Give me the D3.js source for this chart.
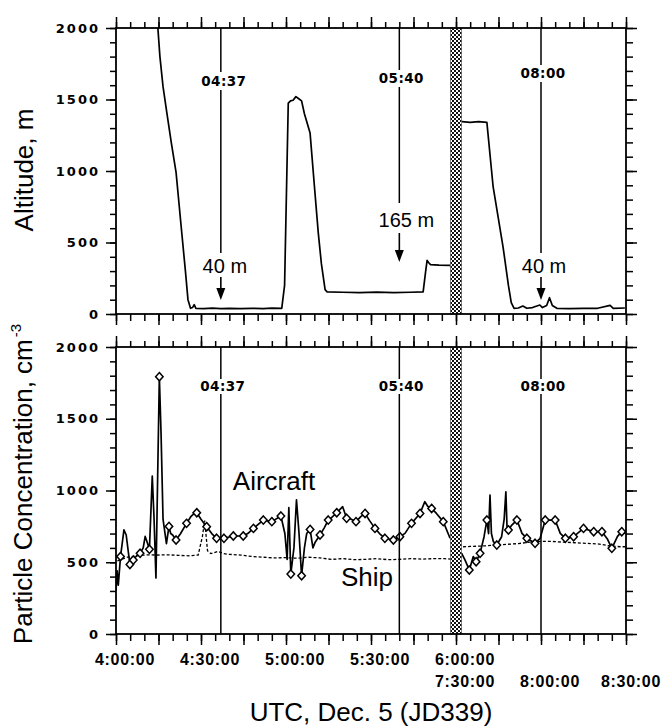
<!DOCTYPE html>
<html>
<head>
<meta charset="utf-8">
<script src="https://cdn.jsdelivr.net/npm/d3@7"></script>
<style>
body { margin: 0; background: #fff; }
svg { display: block; }
text { font-family: "Liberation Sans", Arial, sans-serif; fill: #000; }
</style>
</head>
<body>
<div id="chart"></div>
<script>
const width = 664,
      height = 727;

// Time is minutes after 04:00 UTC. The axis skips 06:00 - 07:30.
const breakStart = 120,
      breakEnd = 210,
      tEnd = 270;

const xLabelsRow1 = [[0, "4:00:00"], [30, "4:30:00"], [60, "5:00:00"], [90, "5:30:00"], [120, "6:00:00"]];
const xLabelsRow2 = [[210, "7:30:00"], [240, "8:00:00"], [270, "8:30:00"]];
const yLabels = [0, 500, 1000, 1500, 2000];

const markerTimes = [37, 100, 240];
const markerLabels = ["04:37", "05:40", "08:00"];
const altitudeNotes = ["40 m", "165 m", "40 m"];

// Altitude, m
const altitudeA = [
  [14.6, 2050], [15.5, 1800], [16.6, 1590], [18, 1400], [19.5, 1200], [21.2, 990],
  [23.2, 570], [24.5, 300], [25.4, 100], [26.3, 40], [27, 45], [27.6, 65], [28.2, 40],
  [31, 38], [34, 41], [37, 38], [40, 40], [44, 37], [48, 39], [52, 38], [55, 41],
  [58.5, 40], [59.5, 200], [60.8, 1475], [61.6, 1490], [62.5, 1495], [63.5, 1520],
  [64.5, 1505], [65.5, 1490], [66.5, 1400], [68.5, 1265], [70, 900], [71.4, 566],
  [72.5, 350], [73.8, 170], [74.5, 155], [80, 152], [86, 150], [92, 153], [98, 150],
  [104, 152], [108.4, 155], [109.3, 300], [109.8, 375], [110.3, 360], [111, 345],
  [114, 342], [118, 340]
];
const altitudeB = [
  [212.1, 1345], [215, 1340], [218, 1345], [220.9, 1340], [223.1, 890], [226.6, 470],
  [228.5, 200], [229.5, 80], [230.5, 40], [232, 42], [233.6, 56], [235, 40], [237, 45],
  [239.6, 63], [240.5, 45], [242, 60], [243, 114], [244, 60], [245.6, 40], [250, 38],
  [255, 40], [260, 40], [264.4, 60], [265.5, 40], [269.6, 42]
];

// Particle concentration, cm-3
const aircraftA = [
  [0, 300], [0.4, 440], [0.8, 340], [1.6, 540], [2.8, 725], [3.6, 690], [4.9, 485],
  [6.1, 515], [7.3, 545], [8.5, 562], [9.6, 600], [10.3, 680], [11, 640], [11.8, 590],
  [12.8, 1100], [13.4, 820], [14.1, 390], [15.3, 1793], [15.9, 1400], [16.6, 800],
  [17.8, 630], [18.7, 750], [19.3, 700], [20, 690], [21.2, 655], [22.8, 700],
  [24.9, 771], [26.5, 820], [27.6, 840], [28.5, 845], [30, 800], [32, 748], [33.8, 700],
  [35.5, 667], [38.1, 667], [41.4, 683], [44.9, 683], [46.5, 700], [48.5, 736], [52, 794],
  [55, 783], [58.2, 822], [59.6, 700], [60.4, 520], [61, 880], [61.7, 418], [62.8, 600],
  [63.7, 935], [64.6, 700], [65.5, 406], [66.5, 600], [67.3, 700], [68.5, 729],
  [69.5, 600], [70.3, 640], [72, 690], [73.5, 740], [74.9, 794], [75.5, 800],
  [77.9, 845], [80, 887], [81.4, 806], [83, 800], [84.7, 783], [86.5, 820], [87.9, 840],
  [89.5, 790], [91.4, 736], [93, 700], [94.9, 667], [97.9, 655], [100.2, 678],
  [102, 701], [104.3, 771], [107.3, 840], [109, 922], [110, 890], [111.4, 875],
  [113.1, 840], [115.5, 783], [117.9, 667]
];
const aircraftB = [
  [212, 562], [213.2, 515], [214.7, 446], [216.1, 540], [217.1, 504], [218.5, 562],
  [219.9, 678], [220.9, 794], [221.5, 700], [222, 968], [222.5, 700], [223.2, 643],
  [224.4, 620], [226.1, 678], [227, 800], [227.6, 991], [228, 750], [228.5, 725],
  [229.7, 759], [231.5, 794], [233.3, 701], [235, 667], [237.9, 632], [239.7, 667],
  [241.5, 794], [245, 794], [246.8, 701], [248.6, 667], [251.5, 678], [255, 736],
  [258.6, 713], [261.5, 713], [263.5, 660], [265, 597], [267, 680], [268.5, 713],
  [269.7, 701]
];
const aircraftMeans = [
  [1.6, 540], [4.9, 485], [6.1, 515], [8.5, 562], [11.8, 590], [15.3, 1793], [18.7, 750],
  [21.2, 655], [24.9, 771], [28.5, 845], [32, 748], [35.5, 667], [38.1, 667], [41.4, 683],
  [44.9, 683], [48.5, 736], [52, 794], [55, 783], [58.2, 822], [61.7, 418], [65.5, 406],
  [68.5, 729], [72, 690], [74.9, 794], [77.9, 845], [81.4, 806], [84.7, 783], [87.9, 840],
  [91.4, 736], [94.9, 667], [97.9, 655], [100.2, 678], [104.3, 771], [107.3, 840],
  [111.4, 875], [115.5, 783],
  [214.7, 446], [217.1, 504], [218.5, 562], [220.9, 794], [224.4, 620], [228.5, 725],
  [231.5, 794], [235, 667], [237.9, 632], [241.5, 794], [245, 794], [248.6, 667],
  [251.5, 678], [255, 736], [258.6, 713], [261.5, 713], [265, 597], [268.5, 713]
];
const shipA = [
  [0.5, 510], [2, 520], [4, 535], [6, 540], [8, 548], [10, 550], [12, 552], [14, 550],
  [18, 552], [22, 548], [26, 545], [29, 550], [30.5, 680], [31.3, 790], [32.3, 580],
  [33.5, 560], [36, 575], [38, 560], [40, 555], [44, 550], [48, 540], [52, 535], [56, 530],
  [60, 532], [64, 528], [68, 535], [72, 530], [76, 520], [80, 525], [84, 518], [88, 520],
  [92, 525], [96, 518], [100, 520], [104, 525], [108, 522], [112, 525], [116, 525],
  [118, 522]
];
const shipB = [
  [212.5, 608], [215, 610], [218, 612], [221, 615], [224, 620], [228, 625], [232, 630],
  [236, 640], [240, 645], [244, 645], [248, 640], [252, 636], [256, 632], [260, 628],
  [264, 615], [268, 608], [270, 608]
];

const left = 116, right = 626;

const x = d3.scaleLinear()
    .domain([0, breakStart, breakEnd, tEnd])
    .range([left, 456, 456, right]);

const yAlt = d3.scaleLinear().domain([0, 2000]).range([314, 28]);
const yConc = d3.scaleLinear().domain([0, 2000]).range([634, 347]);

const svg = d3.select("#chart")
  .append("svg")
    .attr("width", width)
    .attr("height", height);

const defs = svg.append("defs");
const pat = defs.append("pattern")
    .attr("id", "checker")
    .attr("patternUnits", "userSpaceOnUse")
    .attr("width", 4)
    .attr("height", 4);
pat.append("rect").attr("width", 4).attr("height", 4).attr("fill", "#fff");
pat.append("rect").attr("width", 2).attr("height", 2).attr("fill", "#111");
pat.append("rect").attr("x", 2).attr("y", 2).attr("width", 2).attr("height", 2).attr("fill", "#111");

[["clipAlt", yAlt], ["clipConc", yConc]].forEach(([id, y]) => {
  defs.append("clipPath").attr("id", id)
    .append("rect")
      .attr("x", left).attr("y", y(2000))
      .attr("width", right - left).attr("height", y(0) - y(2000));
});

const minorX = d3.range(0, breakStart + 1, 5).concat(d3.range(breakEnd + 5, tEnd + 1, 5));
const majorX = minorX.filter(d => d % 15 === 0);
const minorY = d3.range(0, 2001, 100);
const majorY = minorY.filter(d => d % 500 === 0);

function ticks(g, axis, values, size) {
  g.append("g")
      .attr("class", "ticks")
      .call(axis.tickValues(values).tickSize(size).tickSizeOuter(0).tickFormat(""))
      .call(s => s.select(".domain").remove())
      .selectAll("line")
        .attr("stroke", "#000")
        .attr("stroke-width", 1.5);
}

function frame(y) {
  const g = svg.append("g");
  const top = y(2000), bottom = y(0);

  g.append("g").attr("transform", `translate(0,${bottom})`)
    .call(s => { ticks(s, d3.axisBottom(x), minorX, 7); ticks(s, d3.axisBottom(x), majorX, 11); });
  g.append("g").attr("transform", `translate(0,${top})`)
    .call(s => { ticks(s, d3.axisTop(x), minorX, 6); ticks(s, d3.axisTop(x), majorX, 11); });
  g.append("g").attr("transform", `translate(${left},0)`)
    .call(s => { ticks(s, d3.axisLeft(y), minorY, 6); ticks(s, d3.axisLeft(y), majorY, 10); });
  g.append("g").attr("transform", `translate(${right},0)`)
    .call(s => { ticks(s, d3.axisRight(y), minorY, 7); ticks(s, d3.axisRight(y), majorY, 11); });

  g.append("g")
    .selectAll("text")
    .data(yLabels)
    .enter()
    .append("text")
      .attr("x", 100)
      .attr("y", d => y(d))
      .attr("dy", "0.36em")
      .attr("text-anchor", "end")
      .style("font-family", "'DejaVu Sans', sans-serif")
      .style("font-weight", "bold")
      .style("font-size", "13px")
      .style("letter-spacing", "2px")
      .text(d => d);

  // data gap 06:00 - 07:30
  g.append("rect")
      .attr("x", x(breakStart) - 5.5)
      .attr("y", top)
      .attr("width", 11)
      .attr("height", bottom - top)
      .attr("fill", "url(#checker)")
      .attr("stroke", "#444")
      .attr("stroke-width", 0.6);

  g.append("rect")
      .attr("x", left)
      .attr("y", top)
      .attr("width", right - left)
      .attr("height", bottom - top)
      .attr("fill", "none")
      .attr("stroke", "#000")
      .attr("stroke-width", 1.8);
  return g;
}

function lineOf(y) {
  return d3.line().x(d => x(d[0])).y(d => y(d[1]));
}

// ---------- Altitude panel
const altG = svg.append("g").attr("clip-path", "url(#clipAlt)");
[altitudeA, altitudeB].forEach(seg => {
  altG.append("path")
      .datum(seg)
      .attr("fill", "none")
      .attr("stroke", "#000")
      .attr("stroke-width", 1.7)
      .attr("stroke-linejoin", "round")
      .attr("d", lineOf(yAlt));
});
frame(yAlt);

// marker lines with time label, altitude label and arrow (pixel layout)
const altLayout = [
  { labelY: 86, labelDx: 3, gap: [72, 90], lineEnd: 253, noteY: 273, noteDx: 4, arrow: [277, 300] },
  { labelY: 83, labelDx: 2, gap: [70, 87], lineEnd: 203, noteY: 227, noteDx: 7, arrow: [233, 262] },
  { labelY: 78, labelDx: 2, gap: [65, 82], lineEnd: 253, noteY: 273, noteDx: 3, arrow: [277, 300] }
];

markerTimes.forEach((t, i) => {
  const xm = x(t), L = altLayout[i];
  const g = svg.append("g");
  g.append("line")
      .attr("x1", xm).attr("x2", xm)
      .attr("y1", yAlt(2000)).attr("y2", L.gap[0])
      .attr("stroke", "#000").attr("stroke-width", 1.5);
  g.append("line")
      .attr("x1", xm).attr("x2", xm)
      .attr("y1", L.gap[1]).attr("y2", L.lineEnd)
      .attr("stroke", "#000").attr("stroke-width", 1.5);
  g.append("text")
      .attr("x", xm + L.labelDx)
      .attr("y", L.labelY)
      .attr("text-anchor", "middle")
      .style("font-family", "'DejaVu Sans', sans-serif")
      .style("font-weight", "bold")
      .style("font-size", "13.5px")
      .style("letter-spacing", "0.4px")
      .text(markerLabels[i]);
  g.append("text")
      .attr("x", xm + L.noteDx)
      .attr("y", L.noteY)
      .attr("text-anchor", "middle")
      .style("font-size", "20px")
      .text(altitudeNotes[i]);
  g.append("line")
      .attr("x1", xm).attr("x2", xm)
      .attr("y1", L.arrow[0]).attr("y2", L.arrow[1] - 8)
      .attr("stroke", "#000").attr("stroke-width", 1.6);
  g.append("path")
      .attr("d", `M${xm - 4.5},${L.arrow[1] - 12}L${xm + 4.5},${L.arrow[1] - 12}L${xm},${L.arrow[1]}Z`)
      .attr("fill", "#000");
});

// ---------- Concentration panel
const concG = svg.append("g").attr("clip-path", "url(#clipConc)");
[shipA, shipB].forEach(seg => {
  concG.append("path")
      .datum(seg)
      .attr("fill", "none")
      .attr("stroke", "#000")
      .attr("stroke-width", 1.3)
      .attr("stroke-dasharray", "3,2")
      .attr("d", lineOf(yConc));
});
[aircraftA, aircraftB].forEach(seg => {
  concG.append("path")
      .datum(seg)
      .attr("fill", "none")
      .attr("stroke", "#000")
      .attr("stroke-width", 1.7)
      .attr("stroke-linejoin", "round")
      .attr("d", lineOf(yConc));
});

const diamond = {
  draw(ctx, size) {
    const r = Math.sqrt(size) / 2;
    ctx.moveTo(0, -r * 1.1);
    ctx.lineTo(r, 0);
    ctx.lineTo(0, r * 1.1);
    ctx.lineTo(-r, 0);
    ctx.closePath();
  }
};

concG.append("g")
  .selectAll("path")
  .data(aircraftMeans)
  .enter()
  .append("path")
    .attr("transform", d => `translate(${x(d[0])},${yConc(d[1])})`)
    .attr("d", d3.symbol().type(diamond).size(56))
    .attr("fill", "#fff")
    .attr("stroke", "#000")
    .attr("stroke-width", 1.5);

frame(yConc);

markerTimes.forEach((t, i) => {
  const xm = x(t);
  const g = svg.append("g");
  g.append("line")
      .attr("x1", xm).attr("x2", xm)
      .attr("y1", yConc(2000)).attr("y2", yConc(0))
      .attr("stroke", "#000").attr("stroke-width", 1.5);
  g.append("rect")
      .attr("x", xm - 22).attr("y", 379)
      .attr("width", 46).attr("height", 15)
      .attr("fill", "#fff");
  g.append("text")
      .attr("x", xm + 2)
      .attr("y", 391)
      .attr("text-anchor", "middle")
      .style("font-family", "'DejaVu Sans', sans-serif")
      .style("font-weight", "bold")
      .style("font-size", "13.5px")
      .style("letter-spacing", "0.4px")
      .text(markerLabels[i]);
});

svg.append("text")
    .attr("x", 274).attr("y", 490)
    .attr("text-anchor", "middle")
    .style("font-size", "26px")
    .text("Aircraft");

svg.append("text")
    .attr("x", 367).attr("y", 586)
    .attr("text-anchor", "middle")
    .style("font-size", "26px")
    .text("Ship");

// ---------- x labels and titles
const xLab = svg.append("g")
    .style("font-weight", "bold")
    .style("font-size", "16px")
    .style("letter-spacing", "0.7px")
    .attr("text-anchor", "middle");

xLab.selectAll(".r1")
  .data(xLabelsRow1)
  .enter()
  .append("text")
    .attr("x", d => x(d[0]) + 9)
    .attr("y", 665)
    .text(d => d[1]);

xLab.selectAll(".r2")
  .data(xLabelsRow2)
  .enter()
  .append("text")
    .attr("x", (d, i) => x(d[0]) + (i === xLabelsRow2.length - 1 ? 5 : 9))
    .attr("y", 687)
    .text(d => d[1]);

svg.append("text")
    .attr("transform", "translate(33,170) rotate(-90)")
    .attr("text-anchor", "middle")
    .style("font-size", "26px")
    .text("Altitude, m");

const pc = svg.append("text")
    .attr("transform", "translate(32,484) rotate(-90)")
    .attr("text-anchor", "middle")
    .style("font-size", "26px");
pc.append("tspan").text("Particle Concentration, cm");
pc.append("tspan")
    .attr("dy", -11)
    .attr("dx", 2)
    .style("font-size", "15px")
    .text("-3");

svg.append("text")
    .attr("x", (left + right) / 2)
    .attr("y", 721)
    .attr("text-anchor", "middle")
    .style("font-size", "26px")
    .text("UTC, Dec. 5 (JD339)");
</script>
</body>
</html>
